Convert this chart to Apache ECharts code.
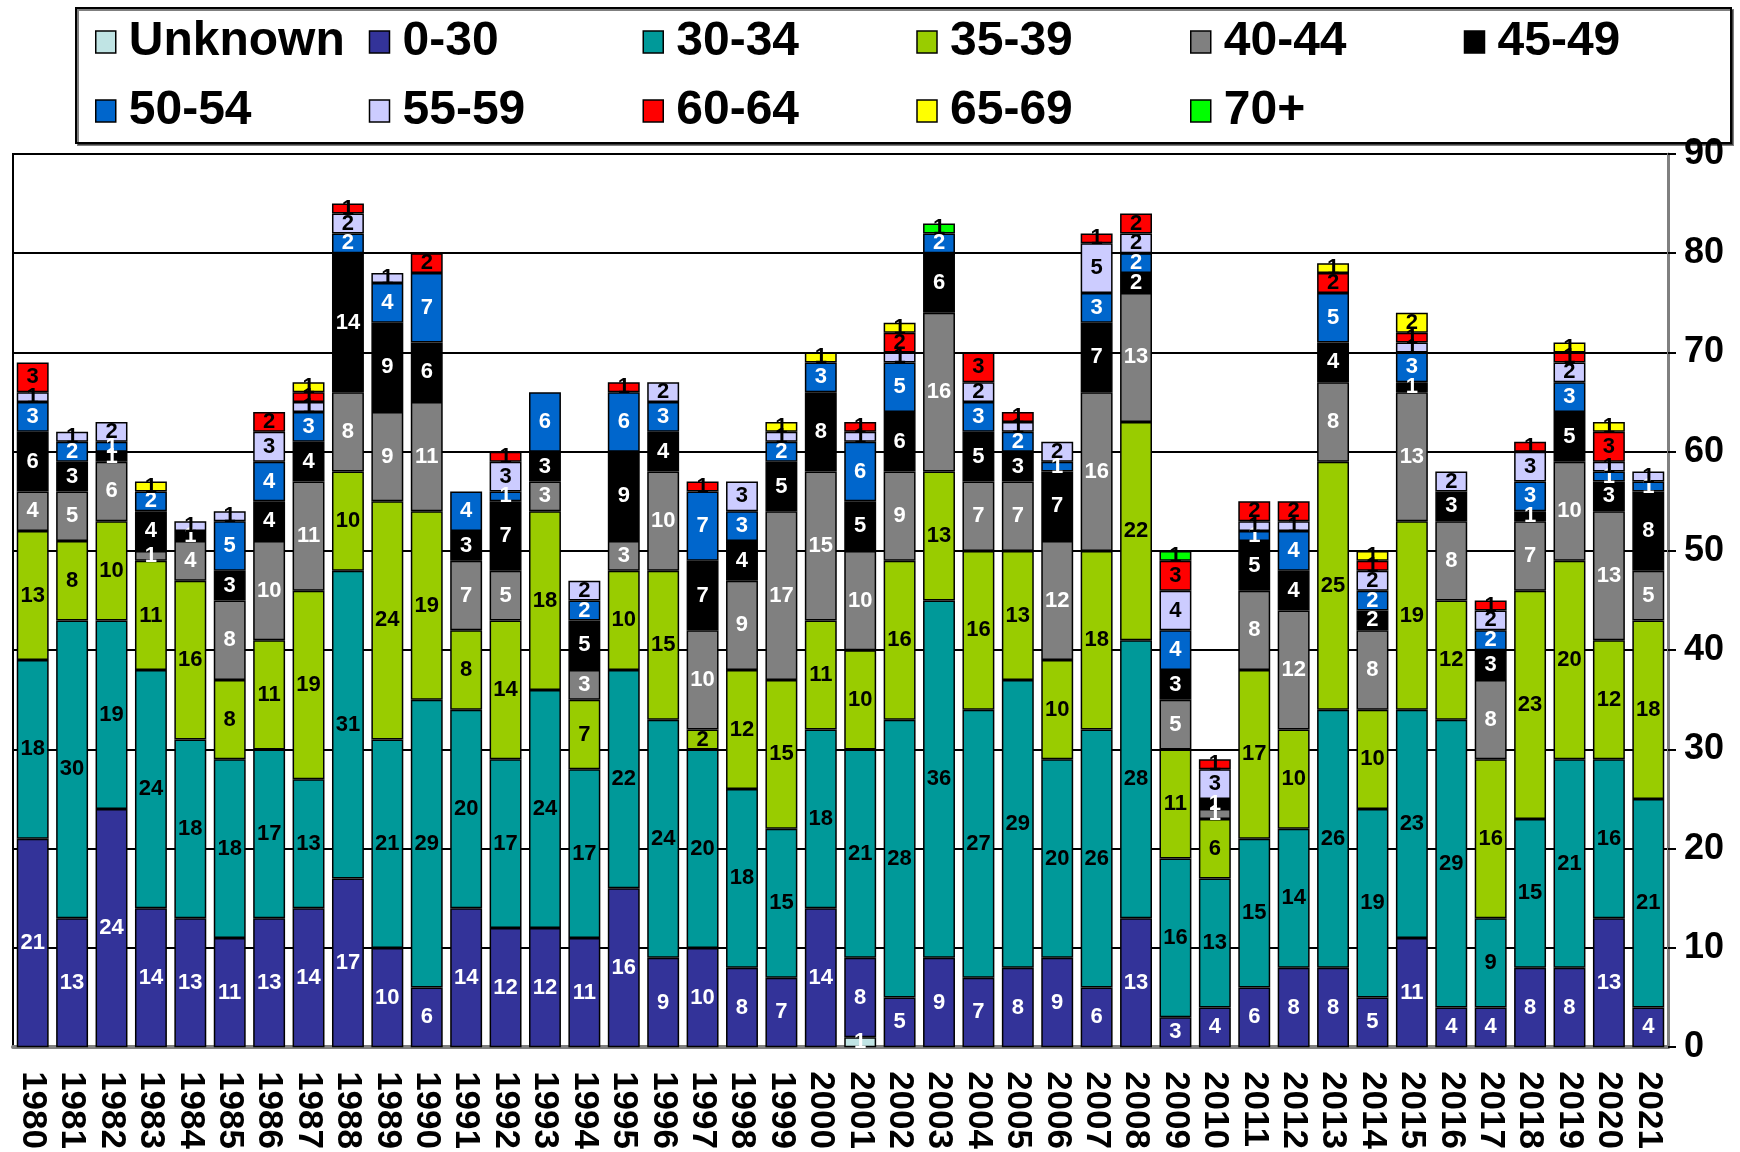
<!DOCTYPE html>
<html>
<head>
<meta charset="utf-8">
<script src="https://cdn.jsdelivr.net/npm/echarts@6/dist/echarts.min.js"></script>
<style>
html,body{margin:0;padding:0;background:#fff;}
#chart{width:1740px;height:1152px;}
</style>
</head>
<body>
<div id="chart"></div>
<script>
const years = ['1980','1981','1982','1983','1984','1985','1986','1987','1988','1989',
  '1990','1991','1992','1993','1994','1995','1996','1997','1998','1999',
  '2000','2001','2002','2003','2004','2005','2006','2007','2008','2009',
  '2010','2011','2012','2013','2014','2015','2016','2017','2018','2019',
  '2020','2021'];

const seriesNames = ['Unknown','0-30','30-34','35-39','40-44','45-49','50-54','55-59','60-64','65-69','70+'];
const yTicks = [0,10,20,30,40,50,60,70,80,90];

const unknown = [0,0,0,0,0,0,0,0,0,0, 0,0,0,0,0,0,0,0,0,0, 0,1,0,0,0,0,0,0,0,0, 0,0,0,0,0,0,0,0,0,0, 0,0];
const age0_30 = [21,13,24,14,13,11,13,14,17,10, 6,14,12,12,11,16,9,10,8,7, 14,8,5,9,7,8,9,6,13,3, 4,6,8,8,5,11,4,4,8,8, 13,4];
const age30_34 = [18,30,19,24,18,18,17,13,31,21, 29,20,17,24,17,22,24,20,18,15, 18,21,28,36,27,29,20,26,28,16, 13,15,14,26,19,23,29,9,15,21, 16,21];
const age35_39 = [13,8,10,11,16,8,11,19,10,24, 19,8,14,18,7,10,15,2,12,15, 11,10,16,13,16,13,10,18,22,11, 6,17,10,25,10,19,12,16,23,20, 12,18];
const age40_44 = [4,5,6,1,4,8,10,11,8,9, 11,7,5,3,3,3,10,10,9,17, 15,10,9,16,7,7,12,16,13,5, 1,8,12,8,8,13,8,8,7,10, 13,5];
const age45_49 = [6,3,1,4,1,3,4,4,14,9, 6,3,7,3,5,9,4,7,4,5, 8,5,6,6,5,3,7,7,2,3, 1,5,4,4,2,1,3,3,1,5, 3,8];
const age50_54 = [3,2,1,2,0,5,4,3,2,4, 7,4,1,6,2,6,3,7,3,2, 3,6,5,2,3,2,1,3,2,4, 0,1,4,5,2,3,0,2,3,3, 1,1];
const age55_59 = [1,1,2,0,1,1,3,1,2,1, 0,0,3,0,2,0,2,0,3,1, 0,1,1,0,2,1,2,5,2,4, 3,1,1,0,2,1,2,2,3,2, 1,1];
const age60_64 = [3,0,0,0,0,0,2,1,1,0, 2,0,1,0,0,1,0,1,0,0, 0,1,2,0,3,1,0,1,2,3, 1,2,2,2,1,1,0,1,1,1, 3,0];
const age65_69 = [0,0,0,1,0,0,0,1,0,0, 0,0,0,0,0,0,0,0,0,1, 1,0,1,0,0,0,0,0,0,0, 0,0,0,1,1,2,0,0,0,1, 1,0];
const age70plus = [0,0,0,0,0,0,0,0,0,0, 0,0,0,0,0,0,0,0,0,0, 0,0,0,1,0,0,0,0,0,1, 0,0,0,0,0,0,0,0,0,0, 0,0];

const seriesValues = [unknown, age0_30, age30_34, age35_39, age40_44, age45_49, age50_54, age55_59, age60_64, age65_69, age70plus];
const colors = ['#C0E4E4','#333399','#009999','#99CC00','#808080','#000000','#0066CC','#CCCCFF','#FF0000','#FFFF00','#00FF00'];
const labelColors = ['#ffffff','#ffffff','#000000','#000000','#ffffff','#ffffff','#ffffff','#000000','#000000','#000000','#000000'];

const FONT = '"Liberation Sans", Arial, sans-serif';

const series = seriesNames.map((name, i) => ({
  name: name,
  type: 'bar',
  stack: 'total',
  barCategoryGap: '19%',
  data: seriesValues[i].map(v => v === 0 ? '-' : v),
  itemStyle: { color: colors[i], borderColor: '#000', borderWidth: 1.5 },
  label: {
    show: true,
    position: 'inside',
    color: labelColors[i],
    fontFamily: FONT,
    fontWeight: 'bold',
    fontSize: 22,
    formatter: p => (p.value === '-' || p.value == null) ? '' : String(p.value)
  }
}));

function makeLegend(data, top) {
  return {
    data: data,
    left: 95,
    top: top,
    width: 1700,
    orient: 'horizontal',
    padding: 0,
    itemGap: 0,
    itemWidth: 20,
    itemHeight: 22,
    icon: 'rect',
    itemStyle: { borderColor: '#000', borderWidth: 1.5 },
    selectedMode: false,
    formatter: '{a|{name}}',
    textStyle: {
      fontFamily: FONT, fontWeight: 'bold', fontSize: 48, color: '#000',
      rich: { a: { fontFamily: FONT, fontWeight: 'bold', fontSize: 48, color: '#000', width: 240, padding: [0,0,0,8], lineHeight: 50 } }
    }
  };
}

const chart = echarts.init(document.getElementById('chart'), null, { renderer: 'canvas' });
chart.setOption({
  animation: false,
  backgroundColor: '#fff',
  graphic: [{
    type: 'rect',
    shape: { x: 76, y: 8, width: 1655, height: 135 },
    style: { fill: '#fff', stroke: '#000', lineWidth: 2, shadowColor: 'rgba(0,0,0,0.5)', shadowOffsetX: 2, shadowOffsetY: 2, shadowBlur: 0 },
    z: -10
  }],
  legend: [
    makeLegend(seriesNames.slice(0, 6), 18),
    makeLegend(seriesNames.slice(6), 87)
  ],
  grid: { left: 13, right: 72, top: 154, bottom: 100, show: true, borderColor: '#000', borderWidth: 2 },
  xAxis: {
    type: 'category',
    data: years,
    axisLine: { show: true, lineStyle: { color: '#808080', width: 4 } },
    axisTick: { show: false },
    axisLabel: { interval: 0, rotate: -90, margin: 24, fontFamily: FONT, fontWeight: 'bold', fontSize: 35, color: '#000' }
  },
  yAxis: {
    type: 'value',
    position: 'right',
    min: yTicks[0],
    max: yTicks[yTicks.length - 1],
    interval: 10,
    axisLine: { show: true, lineStyle: { color: '#808080', width: 3 } },
    axisTick: { show: true, length: 8, lineStyle: { color: '#000', width: 2 } },
    axisLabel: { margin: 16, fontFamily: FONT, fontWeight: 'bold', fontSize: 36, color: '#000' },
    splitLine: { show: true, lineStyle: { color: '#000', width: 2 } }
  },
  series: series
});
</script>
</body>
</html>
